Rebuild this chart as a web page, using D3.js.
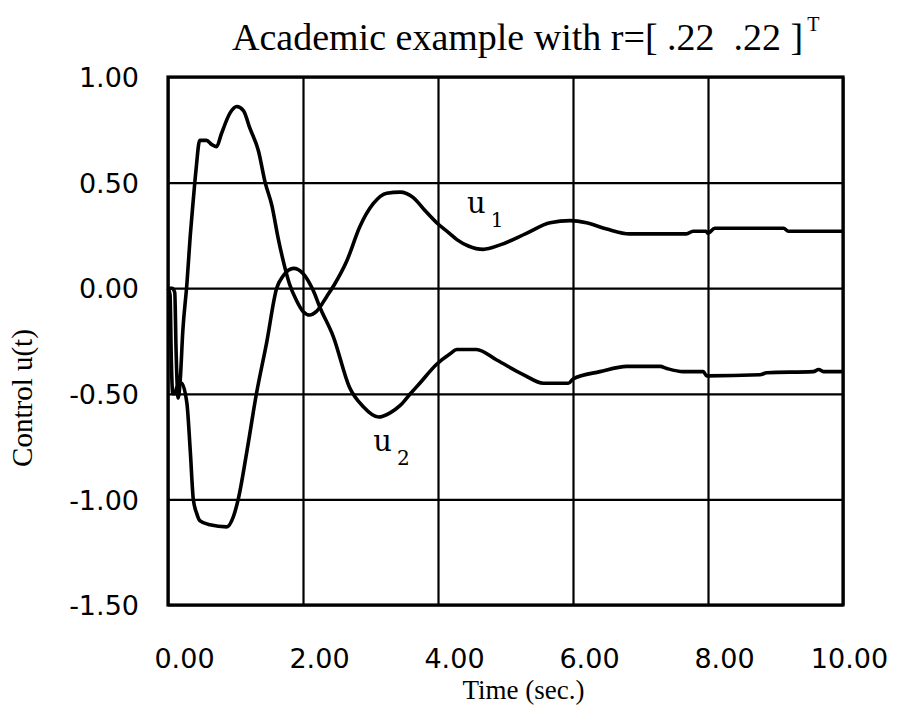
<!DOCTYPE html>
<meta charset="utf-8">
<script src="https://d3js.org/d3.v7.min.js"></script>
<style>
  body { margin: 0; background: #fff; }
</style>
<div id="chart"></div>
<script>
// control u1 (time, value)
const u1Time = [0, 0.06, 0.10, 0.12, 0.15, 0.18, 0.22, 0.28, 0.33, 0.375, 0.415, 0.47, 0.57, 0.65, 0.72, 0.79, 0.92, 1.02, 1.12, 1.21, 1.34, 1.44, 1.54, 1.63, 1.73, 1.80, 1.90, 2.00, 2.10, 2.20, 2.35, 2.47, 2.65, 2.84, 3.04, 3.24, 3.44, 3.63, 3.80, 3.98, 4.17, 4.28, 4.45, 4.67, 4.92, 5.31, 5.66, 5.96, 6.20, 6.50, 6.84, 7.68, 7.78, 7.97, 8.00, 8.10, 9.12, 9.19, 10.0];
const u1Values = [0, 0.0, -0.02, -0.30, -0.52, -0.44, -0.20, 0.02, 0.25, 0.42, 0.56, 0.70, 0.70, 0.68, 0.67, 0.73, 0.83, 0.86, 0.84, 0.76, 0.65, 0.50, 0.39, 0.24, 0.10, 0.02, -0.056, -0.11, -0.127, -0.11, -0.04, 0.02, 0.13, 0.29, 0.40, 0.45, 0.455, 0.43, 0.37, 0.31, 0.26, 0.23, 0.20, 0.184, 0.205, 0.26, 0.31, 0.32, 0.31, 0.28, 0.257, 0.257, 0.27, 0.27, 0.26, 0.284, 0.284, 0.27, 0.27];

// control u2
const u2Time = [0, 0.03, 0.05, 0.07, 0.10, 0.13, 0.20, 0.28, 0.33, 0.375, 0.425, 0.47, 0.62, 0.87, 0.97, 1.04, 1.17, 1.31, 1.46, 1.61, 1.71, 1.86, 2.00, 2.15, 2.25, 2.45, 2.69, 2.89, 3.12, 3.29, 3.44, 3.59, 3.73, 3.98, 4.18, 4.28, 4.57, 4.87, 5.27, 5.56, 5.93, 6.00, 6.40, 6.80, 7.29, 7.39, 7.63, 7.93, 7.98, 8.77, 8.87, 9.56, 9.64, 9.71, 10.0];
const u2Values = [0, -0.03, -0.35, -0.50, -0.50, -0.47, -0.45, -0.545, -0.77, -1.0, -1.066, -1.10, -1.12, -1.13, -1.08, -1.0, -0.77, -0.5, -0.26, 0.0, 0.06, 0.094, 0.07, -0.01, -0.09, -0.23, -0.47, -0.56, -0.61, -0.59, -0.555, -0.5, -0.45, -0.36, -0.31, -0.29, -0.29, -0.34, -0.41, -0.45, -0.45, -0.43, -0.395, -0.37, -0.37, -0.38, -0.395, -0.395, -0.415, -0.41, -0.40, -0.395, -0.385, -0.395, -0.395];

const xTicks = [0, 2, 4, 6, 8, 10];
const yTicks = [1, 0.5, 0, -0.5, -1, -1.5];
const curveLabels = [
  {sub: "1", t: 4.43, v: 0.356},
  {sub: "2", t: 3.04, v: -0.771}
];

const W = 899, H = 705;
const margin = {top: 77, right: 56, bottom: 100, left: 168},
    width = W - margin.left - margin.right,
    height = H - margin.top - margin.bottom;

const svg = d3.select("#chart")
  .append("svg")
    .attr("width", W)
    .attr("height", H)
  .append("g")
    .attr("transform", `translate(${margin.left},${margin.top})`);

const x = d3.scaleLinear().domain([0, 10]).range([0, width]);
const y = d3.scaleLinear().domain([-1.5, 1]).range([height, 0]);

// X axis with grid
const gx = svg.append("g")
  .attr("transform", `translate(0,${height})`)
  .call(d3.axisBottom(x).tickValues(xTicks).tickSize(-height).tickFormat(d => d.toFixed(2)));
gx.select(".domain").remove();
gx.selectAll(".tick line").attr("stroke", "#000").attr("stroke-width", 2.2);
gx.selectAll(".tick text")
  .attr("y", 63).attr("dy", 0)
  .attr("dx", d => d === 10 ? 6 : 16)
  .attr("fill", "#000")
  .style("font-family", "DejaVu Sans")
  .style("font-size", "27px");

// Y axis with grid
const gy = svg.append("g")
  .call(d3.axisLeft(y).tickValues(yTicks).tickSize(-width).tickFormat(d => d.toFixed(2)));
gy.select(".domain").remove();
gy.selectAll(".tick line").attr("stroke", "#000").attr("stroke-width", 2.2);
gy.selectAll(".tick text")
  .attr("x", -29).attr("dy", "0.36em")
  .attr("fill", "#000")
  .style("font-family", "DejaVu Sans")
  .style("font-size", "27px");

// frame
svg.append("rect")
  .attr("width", width).attr("height", height)
  .attr("fill", "none").attr("stroke", "#000").attr("stroke-width", 3.2);

// curves
const line = d3.line()
  .x(d => x(d[0]))
  .y(d => y(d[1]))
  .curve(d3.curveMonotoneX);

[[u1Time, u1Values], [u2Time, u2Values]].forEach(([t, v]) => {
  svg.append("path")
    .datum(t.map((d, i) => [d, v[i]]))
    .attr("fill", "none")
    .attr("stroke", "#000")
    .attr("stroke-width", 3.6)
    .attr("stroke-linejoin", "round")
    .attr("d", line);
});

// curve labels
curveLabels.forEach(l => {
  const txt = svg.append("text")
    .attr("x", x(l.t)).attr("y", y(l.v))
    .style("font-family", "DejaVu Serif")
    .style("font-size", "29px");
  txt.append("tspan").text("u");
  txt.append("tspan").attr("dx", 5).attr("dy", 14).style("font-size", "20px").text(l.sub);
});

// title
const title = svg.append("text")
  .attr("x", 64).attr("y", -27)
  .attr("xml:space", "preserve")
  .style("font-family", "Liberation Serif")
  .style("font-size", "38px");
title.append("tspan").text("Academic example with r=[ .22  .22 ]");
title.append("tspan").attr("dx", 4).attr("dy", -19).style("font-size", "20px").text("T");

// axis titles
svg.append("text")
  .attr("x", width / 2 + 18).attr("y", height + 94)
  .attr("text-anchor", "middle")
  .style("font-family", "Liberation Serif")
  .style("font-size", "27px")
  .text("Time (sec.)");

svg.append("text")
  .attr("transform", `translate(${-136},${y(-0.52)}) rotate(-90)`)
  .attr("text-anchor", "middle")
  .style("font-family", "Liberation Serif")
  .style("font-size", "29px")
  .text("Control u(t)");
</script>
